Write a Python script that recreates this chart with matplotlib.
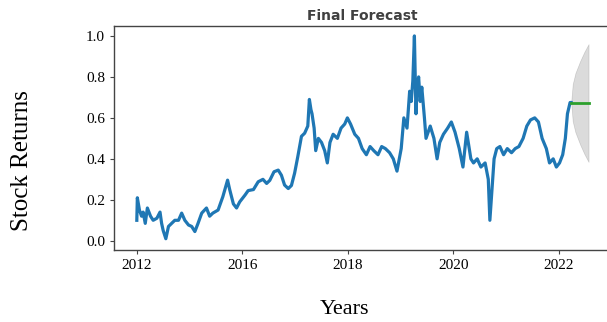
import numpy as np
import matplotlib.pyplot as plt

years = [2014.00, 2014.01, 2014.05, 2014.09, 2014.12, 2014.16, 2014.20, 2014.26, 2014.31,
         2014.38, 2014.44, 2014.47, 2014.50, 2014.55, 2014.60, 2014.66, 2014.72, 2014.79,
         2014.85, 2014.91, 2014.98, 2015.04, 2015.10, 2015.16, 2015.23, 2015.32, 2015.38,
         2015.44, 2015.54, 2015.63, 2015.72, 2015.76, 2015.83, 2015.89, 2015.95, 2016.05,
         2016.11, 2016.21, 2016.30, 2016.39, 2016.46, 2016.52, 2016.60, 2016.68, 2016.74,
         2016.80, 2016.87, 2016.93, 2016.99, 2017.05, 2017.12, 2017.18, 2017.24, 2017.27,
         2017.30, 2017.32, 2017.36, 2017.39, 2017.44, 2017.50, 2017.56, 2017.61, 2017.66,
         2017.72, 2017.80, 2017.87, 2017.94, 2017.99, 2018.05, 2018.13, 2018.20, 2018.27,
         2018.35, 2018.42, 2018.49, 2018.57, 2018.64, 2018.71, 2018.79, 2018.86, 2018.93,
         2019.01, 2019.06, 2019.12, 2019.17, 2019.20, 2019.23, 2019.26, 2019.29, 2019.31,
         2019.34, 2019.37, 2019.40, 2019.45, 2019.48, 2019.56, 2019.63, 2019.69, 2019.74,
         2019.81, 2019.89, 2019.96, 2020.03, 2020.11, 2020.18, 2020.25, 2020.33, 2020.38,
         2020.45, 2020.52, 2020.60, 2020.66, 2020.69, 2020.73, 2020.77, 2020.82, 2020.88,
         2020.95, 2021.02, 2021.10, 2021.17, 2021.24, 2021.32, 2021.39, 2021.46, 2021.54,
         2021.61, 2021.68, 2021.76, 2021.82, 2021.89, 2021.95, 2022.01, 2022.07, 2022.12,
         2022.16, 2022.21, 2022.23]
returns = [0.10, 0.21, 0.15, 0.12, 0.14, 0.085, 0.16, 0.12, 0.10,
           0.11, 0.14, 0.085, 0.05, 0.01, 0.07, 0.085, 0.10, 0.10,
           0.135, 0.10, 0.077, 0.07, 0.045, 0.085, 0.135, 0.16, 0.12,
           0.135, 0.15, 0.215, 0.296, 0.25, 0.18, 0.16, 0.19, 0.223,
           0.245, 0.25, 0.288, 0.30, 0.28, 0.295, 0.337, 0.345, 0.32,
           0.272, 0.255, 0.27, 0.33, 0.41, 0.51, 0.525, 0.56, 0.69,
           0.64, 0.62, 0.55, 0.44, 0.50, 0.48, 0.44, 0.38, 0.48,
           0.52, 0.50, 0.55, 0.57, 0.60, 0.57, 0.52, 0.50, 0.45,
           0.42, 0.46, 0.44, 0.42, 0.46, 0.45, 0.43, 0.40, 0.34,
           0.45, 0.60, 0.55, 0.73, 0.68, 0.78, 1.00, 0.62, 0.74,
           0.80, 0.68, 0.75, 0.60, 0.50, 0.56, 0.50, 0.40, 0.48,
           0.52, 0.55, 0.58, 0.53, 0.45, 0.36, 0.53, 0.40, 0.38,
           0.40, 0.36, 0.38, 0.30, 0.10, 0.25, 0.40, 0.45, 0.46,
           0.42, 0.45, 0.43, 0.45, 0.46, 0.50, 0.56, 0.59, 0.60,
           0.58, 0.50, 0.45, 0.38, 0.40, 0.36, 0.38, 0.42, 0.50,
           0.62, 0.675, 0.675]

# forecast and confidence band
fc_years = [2022.23, 2022.26, 2022.31, 2022.40, 2022.48, 2022.56]
fc_mean = [0.675, 0.675, 0.675, 0.675, 0.675, 0.675]
fc_upper = [0.675, 0.765, 0.818, 0.877, 0.922, 0.960]
fc_lower = [0.675, 0.583, 0.530, 0.470, 0.424, 0.385]

tick_pos = [2014, 2016, 2018, 2020, 2022]
tick_labels = ['2012', '2016', '2018', '2020', '2022']

fig = plt.figure(figsize=(6.07, 3.22), dpi=100)
ax = fig.add_axes([0.188, 0.2236, 0.819, 0.696])

ax.plot(years, returns, color='#1f77b4', linewidth=2.3)
ax.plot(fc_years, fc_mean, color='#2ca02c', linewidth=2)
ax.fill_between(fc_years, fc_lower, fc_upper, color='k', alpha=0.14, linewidth=0.5)

ax.set_xlim(2013.57, 2022.99)
ax.set_ylim(-0.045, 1.049)
ax.set_xticks(tick_pos)
ax.set_xticklabels(tick_labels)
ax.set_yticks([0.0, 0.2, 0.4, 0.6, 0.8, 1.0])

for s in ax.spines.values():
    s.set_color('#444444')
    s.set_linewidth(1)
ax.tick_params(length=3, width=0.8, color='#444444', labelsize=11)
for lab in ax.get_xticklabels() + ax.get_yticklabels():
    lab.set_family('Liberation Serif')

ax.set_title('Final Forecast', fontsize=10, fontweight='semibold', color='#404040', pad=4)
fig.text(0.037, 0.5, 'Stock Returns', rotation=90, ha='center', va='center',
         family='Liberation Serif', fontsize=18)
fig.text(0.568, 0.04, 'Years', ha='center', va='center',
         family='Liberation Serif', fontsize=16)

fig.savefig('out.png', dpi=100)
